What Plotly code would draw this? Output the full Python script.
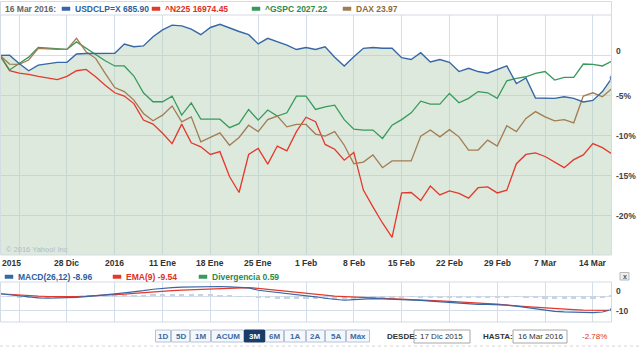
import plotly.graph_objects as go

# ---------------- data (trading days 17 Dic 2015 .. 16 Mar 2016, % change) ----------------
USDCLP = [0.0, 0.05, -1.0, -1.9, -1.2, -1.0, -0.85, -0.85, 0.2, 0.25,
          0.27, 0.27, 0.27, 1.44, 1.1, 1.2, 2.35, 3.2, 3.8, 3.7,
          3.3, 2.6, 3.5, 3.9, 3.4, 3.0, 2.6, 1.45, 2.15, 1.75,
          1.3, 0.75, 1.0, 0.75, 1.1, -0.2, -1.3, -0.15, 0.9, 1.0,
          0.9, 0.9, -0.27, -0.5, 0.35, -0.8, -0.5, -0.85, -2.0, -1.6,
          -2.0, -2.2, -1.8, -1.3, -3.5, -2.8, -5.3, -5.3, -5.35, -5.15,
          -5.35, -5.8, -5.6, -4.5, -2.78]
N225 = [0.0, -1.9, -2.2, -2.35, -2.6, -2.8, -3.0, -2.6, -1.9, -1.74,
        -2.65, -3.7, -4.65, -5.06, -6.0, -8.06, -8.56, -9.7, -11.0, -8.56,
        -10.9, -11.4, -12.35, -12.0, -15.1, -17.1, -12.35, -11.6, -13.56, -11.3,
        -11.9, -9.5, -7.7, -8.27, -11.1, -11.7, -13.06, -12.1, -16.8, -18.9,
        -20.9, -22.7, -17.15, -17.1, -18.1, -16.3, -17.4, -16.9, -17.2, -17.8,
        -16.5, -16.4, -17.15, -16.8, -13.5, -12.35, -12.15, -12.6, -13.3, -14.0,
        -13.0, -12.4, -11.0, -11.5, -12.3]
GSPC = [0.0, -1.8, -1.0, -0.2, 1.0, 0.9, 0.8, 0.77, 1.7, 0.9,
        0.06, -0.65, -1.3, -1.3, -2.56, -4.65, -5.77, -5.77, -5.06, -7.44,
        -5.9, -7.94, -7.94, -7.94, -9.0, -8.5, -6.73, -8.06, -6.8, -7.56,
        -7.15, -5.06, -5.06, -6.73, -6.4, -6.2, -8.0, -9.2, -9.3, -9.3,
        -10.35, -8.7, -8.0, -7.15, -5.7, -6.06, -6.06, -4.73, -5.9, -5.35,
        -4.5, -4.65, -5.35, -3.15, -2.85, -2.65, -2.23, -2.0, -3.06, -2.73,
        -2.73, -1.06, -1.1, -1.3, -0.7]
DAX = [0.0, -1.06, -1.1, -0.56, 0.9, 0.8, 0.77, 0.77, 2.15, 0.48,
       -0.35, -2.23, -4.0, -4.5, -5.56, -7.23, -8.15, -7.44, -6.3, -8.27,
       -7.65, -10.77, -10.23, -9.65, -11.2, -10.23, -8.7, -9.5, -8.0, -7.56,
       -8.9, -8.6, -8.6, -9.8, -10.06, -9.5, -11.2, -13.5, -13.3, -12.4,
       -14.0, -13.15, -13.15, -13.15, -10.06, -9.3, -10.15, -9.25, -10.15, -11.8,
       -11.8, -10.56, -11.3, -8.77, -9.5, -7.85, -7.0, -7.65, -8.15, -8.0,
       -8.4, -5.06, -4.65, -5.15, -4.1]

MACD = [1.9, 1.2, 0.4, -0.4, -1.0, -1.1, -1.1, -1.0, -0.6, -0.1,
        0.4, 1.1, 1.8, 2.5, 3.1, 4.0, 5.0, 5.8, 6.1, 6.4,
        6.6, 6.8, 7.0, 6.9, 6.6, 6.4, 6.0, 4.3, 3.6, 2.8,
        2.0, 1.3, 0.5, -0.2, -1.2, -2.0, -2.6, -2.2, -1.6, -1.5,
        -1.6, -1.8, -2.0, -2.3, -2.7, -3.2, -3.6, -4.2, -4.9, -5.2,
        -5.4, -5.5, -5.6, -6.0, -6.7, -7.6, -8.6, -9.6, -10.2, -10.6,
        -10.9, -11.1, -11.1, -10.7, -8.96]
EMA = [1.9, 1.4, 1.0, 0.5, 0.2, 0.0, -0.1, -0.1, 0.0, 0.2,
       0.5, 0.8, 1.2, 1.7, 2.2, 2.8, 3.3, 3.8, 4.1, 4.4,
       4.7, 4.9, 5.3, 5.7, 6.0, 6.1, 6.1, 5.6, 4.9, 4.3,
       3.5, 2.8, 2.2, 1.5, 0.8, 0.3, -0.1, -0.35, -0.6, -0.8,
       -1.0, -1.3, -1.6, -2.0, -2.3, -2.7, -3.0, -3.3, -3.8, -4.2,
       -4.6, -4.9, -5.2, -5.6, -6.5, -7.0, -7.5, -8.0, -8.4, -8.8,
       -9.1, -9.4, -9.5, -9.55, -9.54]
DIVERG = [0.0, -0.2, -0.6, -0.9, -1.2, -1.1, -1.0, -0.9, -0.6, -0.3,
          -0.1, 0.3, 0.6, 0.8, 0.9, 1.2, 1.7, 2.0, 2.0, 2.0,
          1.9, 1.9, 1.7, 1.2, 0.6, 0.3, -0.1, -1.3, -1.3, -1.5,
          -1.5, -1.5, -1.7, -1.7, -2.0, -2.3, -2.5, -1.85, -1.0, -0.7,
          -0.6, -0.5, -0.4, -0.3, -0.4, -0.5, -0.6, -0.9, -1.1, -1.0,
          -0.8, -0.6, -0.4, -0.4, -0.2, -0.6, -1.1, -1.6, -1.8, -1.8,
          -1.8, -1.7, -1.6, -1.15, 0.59]

X_TICK_LABELS = ["2015", "28 Dic", "2016", "11 Ene", "18 Ene", "25 Ene", "1 Feb",
                 "8 Feb", "15 Feb", "22 Feb", "29 Feb", "7 Mar", "14 Mar"]
Y_TICKS = [0, -5, -10, -15, -20]
Y_TICK_TEXT = ["0", "-5%", "-10%", "-15%", "-20%"]
MACD_TICKS = [0, -10]
MACD_TICK_TEXT = ["0", "-10"]

LEGEND_DATE = "16 Mar 2016:"
LEGEND_ITEMS = ["USDCLP=X 685.90", "^N225 16974.45", "^GSPC 2027.22", "DAX 23.97"]
MACD_ITEMS = ["MACD(26,12) -8.96", "EMA(9) -9.54", "Divergencia 0.59"]
BUTTONS = ["1D", "5D", "1M", "ACUM", "3M", "6M", "1A", "2A", "5A", "Máx"]
SELECTED = "3M"
DESDE, HASTA, CHANGE = "17 Dic 2015", "16 Mar 2016", "-2.78%"

# ---------------- styling / geometry ----------------
W, H, R = 640, 348, 28
PW = W - R
FONT = "Liberation Sans, Arial, sans-serif"
C_BLUE, C_RED, C_GREEN, C_BROWN = "#3767a6", "#e5382c", "#379a5c", "#a27c52"
T_BLUE, T_RED, T_GREEN, T_BROWN = "#2f5f9c", "#e0301f", "#2c8a48", "#8e6a38"
GRID = "#d2deec"
FRAME = "#d3dbe4"
Y_MIN, Y_MAX = -24.9, 5.06
M_MIN, M_MAX = -17.6, 10.0

def px(p):
    return p / PW

def py(p):
    return 1 - p / H

n = len(USDCLP)
X = list(range(n))
first_tick = 2
tick_idx = list(range(first_tick, n, 5))

fig = go.Figure()
# fill under USDCLP
fig.add_trace(go.Scatter(x=X, y=[Y_MIN] * n, mode="lines", line=dict(width=0),
                         hoverinfo="skip", showlegend=False))
fig.add_trace(go.Scatter(x=X, y=USDCLP, mode="lines", line=dict(width=0),
                         fill="tonexty", fillcolor="rgba(180,206,178,0.45)",
                         hoverinfo="skip", showlegend=False))
for ser, col in [(N225, C_RED), (GSPC, C_GREEN), (DAX, C_BROWN)]:
    fig.add_trace(go.Scatter(x=X, y=ser, mode="lines", line=dict(color=col, width=1.3),
                             showlegend=False))
fig.add_trace(go.Scatter(x=X, y=USDCLP, mode="lines+markers",
                         line=dict(color=C_BLUE, width=1.4),
                         marker=dict(size=[0] * (n - 1) + [6], color=C_BLUE),
                         showlegend=False))

# MACD panel
fig.add_trace(go.Bar(x=X, y=DIVERG, marker=dict(color="#c8d4e1", line=dict(width=0)),
                     width=0.55, xaxis="x2", yaxis="y2", showlegend=False))
fig.add_trace(go.Scatter(x=X, y=EMA, mode="lines", line=dict(color=C_RED, width=1.2),
                         xaxis="x2", yaxis="y2", showlegend=False))
fig.add_trace(go.Scatter(x=X, y=MACD, mode="lines+markers", line=dict(color=C_BLUE, width=1.2),
                         marker=dict(size=[0] * (n - 1) + [5], color=C_BLUE),
                         xaxis="x2", yaxis="y2", showlegend=False))

axis_common = dict(range=[0, n - 1], tickvals=tick_idx, showgrid=True, gridcolor=GRID,
                   gridwidth=1, zeroline=False, showticklabels=False, ticks="",
                   showline=False, fixedrange=True)
fig.update_layout(
    width=W, height=H,
    margin=dict(l=0, r=R, t=0, b=0, autoexpand=False),
    paper_bgcolor="white", plot_bgcolor="white",
    font=dict(family=FONT),
    bargap=0,
    xaxis=dict(domain=[0, 1], anchor="y", **axis_common),
    yaxis=dict(domain=[py(255), py(15)], range=[Y_MIN, Y_MAX], tickvals=Y_TICKS,
               showgrid=True, gridcolor=GRID, zeroline=False, showticklabels=False,
               ticks="", fixedrange=True),
    xaxis2=dict(domain=[0, 1], anchor="y2", **axis_common),
    yaxis2=dict(domain=[py(322), py(282)], range=[M_MIN, M_MAX], tickvals=MACD_TICKS,
                showgrid=True, gridcolor=GRID, zeroline=False, showticklabels=False,
                ticks="", fixedrange=True),
)

shapes = []
ann = []

def rect(x0, y0, x1, y1, line="#d3dbe4", fill=None, width=1, dash=None):
    d = dict(type="rect", xref="paper", yref="paper", x0=px(x0), x1=px(x1),
             y0=py(y0), y1=py(y1), line=dict(color=line, width=width))
    if dash:
        d["line"]["dash"] = dash
    if fill:
        d["fillcolor"] = fill
    shapes.append(d)

def hline(x0, x1, y, color=FRAME, width=1, dash=None):
    d = dict(type="line", xref="paper", yref="paper", x0=px(x0), x1=px(x1),
             y0=py(y), y1=py(y), line=dict(color=color, width=width))
    if dash:
        d["line"]["dash"] = dash
    shapes.append(d)

def text(x, y, s, color="#333", size=8.5, bold=True, anchor="left"):
    ann.append(dict(xref="paper", yref="paper", x=px(x), y=py(y), text=(f"<b>{s}</b>" if bold else s),
                    showarrow=False, xanchor=anchor, yanchor="middle",
                    font=dict(family=FONT, size=size, color=color)))

# frames
rect(0.5, 1.5, 611.5, 255, line=FRAME)
hline(0, 612, 15)
rect(0.5, 282, 611.5, 322, line=FRAME)

# top legend
text(3, 8.5, LEGEND_DATE, color="#666")
leg_x = [62, 152, 252, 343]
for xx, s, mc, tc in zip(leg_x, LEGEND_ITEMS, [C_BLUE, C_RED, C_GREEN, C_BROWN],
                         [T_BLUE, T_RED, T_GREEN, T_BROWN]):
    rect(xx, 7, xx + 8, 10.5, line=mc, fill=mc, width=0.5)
    text(xx + 11, 8.5, s, color=tc)

# copyright
text(4, 249, "© 2016 Yahoo! Inc", color="#aebccb", size=7.5, bold=False)

# x labels
for i, (k, lab) in enumerate(zip(tick_idx, X_TICK_LABELS)):
    xpos = k * PW / (n - 1)
    if i == 0:
        xpos -= 8
    text(xpos, 262.5, lab, color="#333", anchor="center")

# y labels
for v, lab in zip(Y_TICKS, Y_TICK_TEXT):
    ann.append(dict(xref="paper", yref="y", x=px(614), y=v, text=f"<b>{lab}</b>",
                    showarrow=False, xanchor="left", yanchor="middle",
                    yshift=5 if v == 0 else 0,
                    font=dict(family=FONT, size=8.5, color="#444")))
for v, lab in zip(MACD_TICKS, MACD_TICK_TEXT):
    ann.append(dict(xref="paper", yref="y2", x=px(614), y=v, text=f"<b>{lab}</b>",
                    showarrow=False, xanchor="left", yanchor="middle",
                    yshift=5 if v == 0 else 0,
                    font=dict(family=FONT, size=8.5, color="#444")))

# MACD legend
mx = [5, 113, 199]
for xx, s, mc, tc in zip(mx, MACD_ITEMS, [C_BLUE, C_RED, C_GREEN], [T_BLUE, T_RED, T_GREEN]):
    rect(xx, 275, xx + 8, 278.5, line=mc, fill=mc, width=0.5)
    text(xx + 11, 276.5, s, color=tc)

# close button
rect(620, 272.5, 629, 280, line="#b9b9b9", fill="#eeeeee")
text(624.5, 276.3, "x", color="#555", size=7, anchor="center")

# buttons
edges = [155, 171, 190, 211, 244, 265, 284, 306, 325, 346, 370]
for b, x0, x1 in zip(BUTTONS, edges[:-1], edges[1:]):
    sel = b == SELECTED
    rect(x0 + 0.5, 330, x1 - 0.5, 342, line="#b7c4d6" if not sel else "#1b3c6b",
         fill="#1b3c6b" if sel else "#f4f7fb")
    text((x0 + x1) / 2, 336.3, b, color="white" if sel else "#3d6ba3", size=8, anchor="center")

text(385, 336.3, "DESDE:", color="#333", size=8)
rect(414, 330, 470, 343, line="#a8a8a8", fill="white")
text(418, 336.5, DESDE, color="#333", size=8, bold=False)
text(481, 336.3, "HASTA:", color="#333", size=8)
rect(513, 330, 567, 343, line="#a8a8a8", fill="white")
text(516, 336.5, HASTA, color="#333", size=8, bold=False)
text(580, 336.3, CHANGE, color="#e0301f", size=8, bold=False)

hline(0, 640, 346, color="#d5d5d5", dash="dot")

fig.update_layout(shapes=shapes, annotations=ann)
fig.write_html("out.html")
